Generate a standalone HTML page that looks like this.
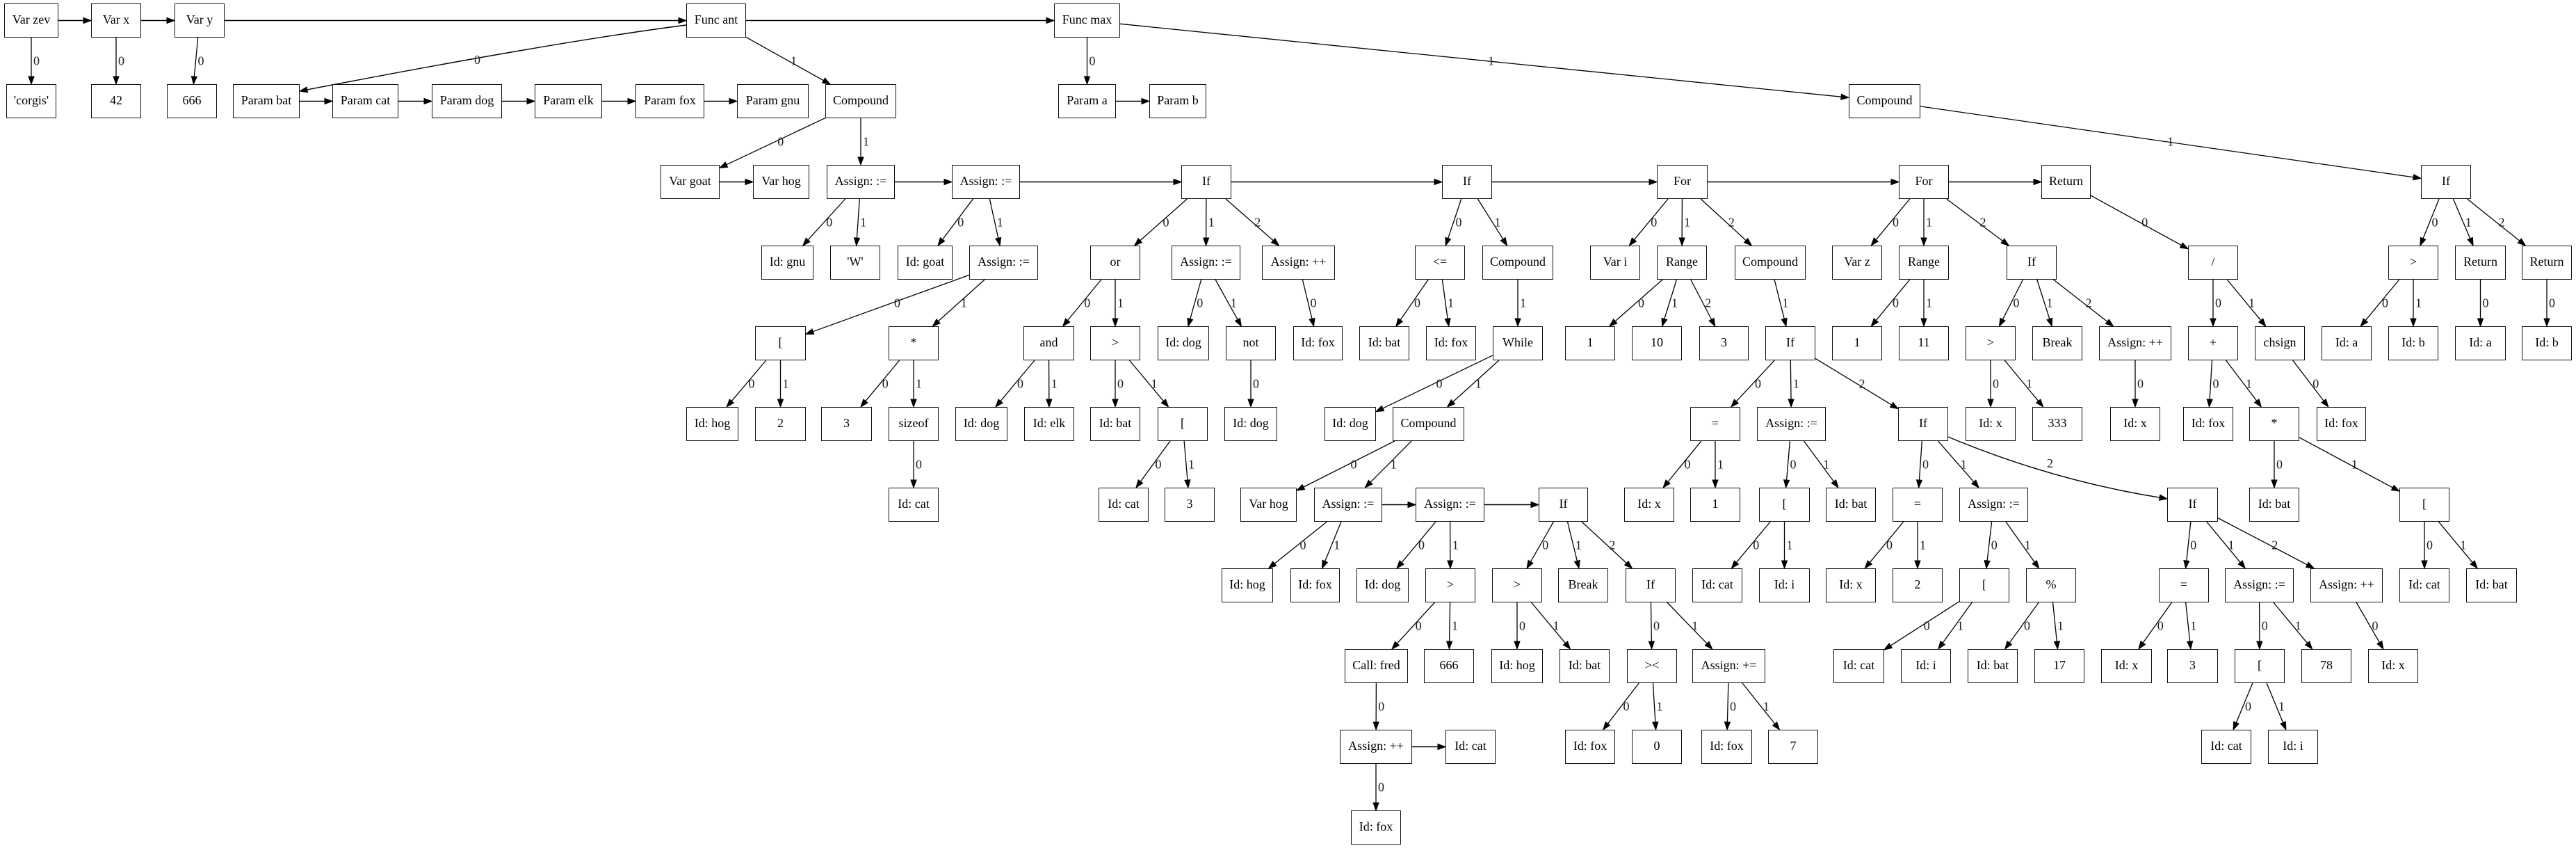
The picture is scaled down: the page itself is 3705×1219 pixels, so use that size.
<!DOCTYPE html>
<html><head><meta charset="utf-8"><style>
html,body{margin:0;padding:0;background:#fff;}
#w{position:relative;width:3705px;height:1219px;overflow:hidden;background:#fff;}
svg{position:absolute;left:0;top:0;}
.n{position:absolute;box-sizing:border-box;height:49px;border:1.6px solid #111;background:#fff;font-family:"Liberation Serif",serif;font-size:18px;line-height:45px;text-align:center;color:#000;white-space:nowrap;}
.l{font-family:"Liberation Serif",serif;font-size:18px;fill:#2a1a0a;}
</style></head><body><div id="w">
<svg id="s" width="3705" height="1219" viewBox="0 0 3705 1219">
<g id="E"></g>
<g id="L">
<text class="l" p="n1" c="n6">0</text><text class="l" p="n2" c="n7">0</text><text class="l" p="n3" c="n8">0</text>
<text class="l" p="n4" c="n9" cv="987,36,800,60,431,131" lx="682" ly="92">0</text>
<text class="l" p="n4" c="n15">1</text><text class="l" p="n5" c="n16">0</text><text class="l" p="n5" c="n18">1</text>
<text class="l" p="n15" c="n19">0</text><text class="l" p="n15" c="n21">1</text><text class="l" p="n21" c="n29">0</text><text class="l" p="n21" c="n30">1</text>
<text class="l" p="n22" c="n31">0</text><text class="l" p="n22" c="n32">1</text><text class="l" p="n32" c="n48">0</text><text class="l" p="n32" c="n49">1</text>
<text class="l" p="n48" c="n73">0</text><text class="l" p="n48" c="n74">1</text><text class="l" p="n49" c="n75">0</text><text class="l" p="n49" c="n76">1</text><text class="l" p="n76" c="n93">0</text>
<text class="l" p="n23" c="n33">0</text><text class="l" p="n23" c="n34">1</text><text class="l" p="n23" c="n35">2</text><text class="l" p="n33" c="n50">0</text><text class="l" p="n33" c="n51">1</text>
<text class="l" p="n50" c="n77">0</text><text class="l" p="n50" c="n78">1</text><text class="l" p="n51" c="n79">0</text><text class="l" p="n51" c="n80">1</text><text class="l" p="n80" c="n94">0</text><text class="l" p="n80" c="n95">1</text>
<text class="l" p="n34" c="n52">0</text><text class="l" p="n34" c="n53">1</text><text class="l" p="n53" c="n81">0</text><text class="l" p="n35" c="n54">0</text>
<text class="l" p="n24" c="n36">0</text><text class="l" p="n24" c="n37">1</text><text class="l" p="n36" c="n55">0</text><text class="l" p="n36" c="n56">1</text><text class="l" p="n37" c="n57">1</text>
<text class="l" p="n57" c="n82">0</text><text class="l" p="n57" c="n83">1</text><text class="l" p="n83" c="n96">0</text><text class="l" p="n83" c="n97">1</text>
<text class="l" p="n97" c="n109">0</text><text class="l" p="n97" c="n110">1</text><text class="l" p="n98" c="n111">0</text><text class="l" p="n98" c="n112">1</text>
<text class="l" p="n112" c="n127">0</text><text class="l" p="n112" c="n128">1</text><text class="l" p="n127" c="n142">0</text><text class="l" p="n142" c="n150">0</text>
<text class="l" p="n99" c="n113">0</text><text class="l" p="n99" c="n114">1</text><text class="l" p="n99" c="n115">2</text><text class="l" p="n113" c="n129">0</text><text class="l" p="n113" c="n130">1</text>
<text class="l" p="n115" c="n131">0</text><text class="l" p="n115" c="n132">1</text><text class="l" p="n131" c="n144">0</text><text class="l" p="n131" c="n145">1</text><text class="l" p="n132" c="n146">0</text><text class="l" p="n132" c="n147">1</text>
<text class="l" p="n25" c="n38">0</text><text class="l" p="n25" c="n39">1</text><text class="l" p="n25" c="n40">2</text><text class="l" p="n39" c="n58">0</text><text class="l" p="n39" c="n59">1</text><text class="l" p="n39" c="n60">2</text><text class="l" p="n40" c="n61">1</text>
<text class="l" p="n61" c="n84">0</text><text class="l" p="n61" c="n85">1</text><text class="l" p="n61" c="n86">2</text><text class="l" p="n84" c="n100">0</text><text class="l" p="n84" c="n101">1</text>
<text class="l" p="n85" c="n102">0</text><text class="l" p="n85" c="n103">1</text><text class="l" p="n102" c="n116">0</text><text class="l" p="n102" c="n117">1</text>
<text class="l" p="n86" c="n104">0</text><text class="l" p="n86" c="n105">1</text>
<text class="l" p="n86" c="n106" cv="2802,628,2950,690,3117,717" lx="2944" ly="672">2</text>
<text class="l" p="n104" c="n118">0</text><text class="l" p="n104" c="n119">1</text><text class="l" p="n105" c="n120">0</text><text class="l" p="n105" c="n121">1</text>
<text class="l" p="n120" c="n133">0</text><text class="l" p="n120" c="n134">1</text><text class="l" p="n121" c="n135">0</text><text class="l" p="n121" c="n136">1</text>
<text class="l" p="n106" c="n122">0</text><text class="l" p="n106" c="n123">1</text><text class="l" p="n106" c="n124">2</text><text class="l" p="n122" c="n137">0</text><text class="l" p="n122" c="n138">1</text>
<text class="l" p="n123" c="n139">0</text><text class="l" p="n123" c="n140">1</text><text class="l" p="n139" c="n148">0</text><text class="l" p="n139" c="n149">1</text><text class="l" p="n124" c="n141">0</text>
<text class="l" p="n26" c="n41">0</text><text class="l" p="n26" c="n42">1</text><text class="l" p="n26" c="n43">2</text><text class="l" p="n42" c="n62">0</text><text class="l" p="n42" c="n63">1</text>
<text class="l" p="n43" c="n64">0</text><text class="l" p="n43" c="n65">1</text><text class="l" p="n43" c="n66">2</text><text class="l" p="n64" c="n87">0</text><text class="l" p="n64" c="n88">1</text><text class="l" p="n66" c="n89">0</text>
<text class="l" p="n27" c="n44">0</text><text class="l" p="n44" c="n67">0</text><text class="l" p="n44" c="n68">1</text><text class="l" p="n67" c="n90">0</text><text class="l" p="n67" c="n91">1</text><text class="l" p="n68" c="n92">0</text>
<text class="l" p="n91" c="n107">0</text><text class="l" p="n91" c="n108">1</text><text class="l" p="n108" c="n125">0</text><text class="l" p="n108" c="n126">1</text>
<text class="l" p="n18" c="n28">1</text><text class="l" p="n28" c="n45">0</text><text class="l" p="n28" c="n46">1</text><text class="l" p="n28" c="n47">2</text>
<text class="l" p="n45" c="n69">0</text><text class="l" p="n45" c="n70">1</text><text class="l" p="n46" c="n71">0</text><text class="l" p="n47" c="n72">0</text>
</g>
</svg>
<!-- row 0 -->
<div class="n" id="n1" style="left:6px;top:5px;width:78px">Var zev</div>
<div class="n" id="n2" style="left:131px;top:5px;width:72px">Var x</div>
<div class="n" id="n3" style="left:251px;top:5px;width:72px">Var y</div>
<div class="n" id="n4" style="left:987px;top:5px;width:86px">Func ant</div>
<div class="n" id="n5" style="left:1516px;top:5px;width:95px">Func max</div>
<!-- row 1 -->
<div class="n" id="n6" style="left:9px;top:121px;width:72px">'corgis'</div>
<div class="n" id="n7" style="left:131px;top:121px;width:72px">42</div>
<div class="n" id="n8" style="left:240px;top:121px;width:72px">666</div>
<div class="n" id="n9" style="left:335px;top:121px;width:96px">Param bat</div>
<div class="n" id="n10" style="left:478px;top:121px;width:95px">Param cat</div>
<div class="n" id="n11" style="left:621px;top:121px;width:101px">Param dog</div>
<div class="n" id="n12" style="left:769px;top:121px;width:97px">Param elk</div>
<div class="n" id="n13" style="left:914px;top:121px;width:99px">Param fox</div>
<div class="n" id="n14" style="left:1060px;top:121px;width:103px">Param gnu</div>
<div class="n" id="n15" style="left:1187px;top:121px;width:102px">Compound</div>
<div class="n" id="n16" style="left:1522px;top:121px;width:83px">Param a</div>
<div class="n" id="n17" style="left:1653px;top:121px;width:82px">Param b</div>
<div class="n" id="n18" style="left:2659px;top:121px;width:103px">Compound</div>
<!-- row 2 -->
<div class="n" id="n19" style="left:950px;top:237px;width:85px">Var goat</div>
<div class="n" id="n20" style="left:1083px;top:237px;width:81px">Var hog</div>
<div class="n" id="n21" style="left:1189px;top:237px;width:98px">Assign: :=</div>
<div class="n" id="n22" style="left:1369px;top:237px;width:98px">Assign: :=</div>
<div class="n" id="n23" style="left:1699px;top:237px;width:72px">If</div>
<div class="n" id="n24" style="left:2074px;top:237px;width:72px">If</div>
<div class="n" id="n25" style="left:2383px;top:237px;width:73px">For</div>
<div class="n" id="n26" style="left:2731px;top:237px;width:72px">For</div>
<div class="n" id="n27" style="left:2936px;top:237px;width:71px">Return</div>
<div class="n" id="n28" style="left:3482px;top:237px;width:72px">If</div>
<!-- row 3 -->
<div class="n" id="n29" style="left:1095px;top:353px;width:75px">Id: gnu</div>
<div class="n" id="n30" style="left:1194px;top:353px;width:72px">'W'</div>
<div class="n" id="n31" style="left:1291px;top:353px;width:79px">Id: goat</div>
<div class="n" id="n32" style="left:1394px;top:353px;width:99px">Assign: :=</div>
<div class="n" id="n33" style="left:1568px;top:353px;width:72px">or</div>
<div class="n" id="n34" style="left:1685px;top:353px;width:99px">Assign: :=</div>
<div class="n" id="n35" style="left:1815px;top:353px;width:105px">Assign: ++</div>
<div class="n" id="n36" style="left:2035px;top:353px;width:72px">&lt;=</div>
<div class="n" id="n37" style="left:2132px;top:353px;width:102px">Compound</div>
<div class="n" id="n38" style="left:2287px;top:353px;width:72px">Var i</div>
<div class="n" id="n39" style="left:2383px;top:353px;width:72px">Range</div>
<div class="n" id="n40" style="left:2495px;top:353px;width:102px">Compound</div>
<div class="n" id="n41" style="left:2635px;top:353px;width:72px">Var z</div>
<div class="n" id="n42" style="left:2731px;top:353px;width:72px">Range</div>
<div class="n" id="n43" style="left:2886px;top:353px;width:72px">If</div>
<div class="n" id="n44" style="left:3147px;top:353px;width:72px">/</div>
<div class="n" id="n45" style="left:3435px;top:353px;width:72px">&gt;</div>
<div class="n" id="n46" style="left:3531px;top:353px;width:73px">Return</div>
<div class="n" id="n47" style="left:3627px;top:353px;width:72px">Return</div>
<!-- row 4 -->
<div class="n" id="n48" style="left:1086px;top:469px;width:73px">[</div>
<div class="n" id="n49" style="left:1278px;top:469px;width:72px">*</div>
<div class="n" id="n50" style="left:1472px;top:469px;width:73px">and</div>
<div class="n" id="n51" style="left:1568px;top:469px;width:72px">&gt;</div>
<div class="n" id="n52" style="left:1665px;top:469px;width:74px">Id: dog</div>
<div class="n" id="n53" style="left:1763px;top:469px;width:72px">not</div>
<div class="n" id="n54" style="left:1860px;top:469px;width:71px">Id: fox</div>
<div class="n" id="n55" style="left:1955px;top:469px;width:72px">Id: bat</div>
<div class="n" id="n56" style="left:2051px;top:469px;width:72px">Id: fox</div>
<div class="n" id="n57" style="left:2147px;top:469px;width:72px">While</div>
<div class="n" id="n58" style="left:2251px;top:469px;width:72px">1</div>
<div class="n" id="n59" style="left:2347px;top:469px;width:72px">10</div>
<div class="n" id="n60" style="left:2444px;top:469px;width:71px">3</div>
<div class="n" id="n61" style="left:2539px;top:469px;width:72px">If</div>
<div class="n" id="n62" style="left:2635px;top:469px;width:72px">1</div>
<div class="n" id="n63" style="left:2731px;top:469px;width:72px">11</div>
<div class="n" id="n64" style="left:2827px;top:469px;width:72px">&gt;</div>
<div class="n" id="n65" style="left:2923px;top:469px;width:72px">Break</div>
<div class="n" id="n66" style="left:3019px;top:469px;width:104px">Assign: ++</div>
<div class="n" id="n67" style="left:3147px;top:469px;width:72px">+</div>
<div class="n" id="n68" style="left:3243px;top:469px;width:72px">chsign</div>
<div class="n" id="n69" style="left:3339px;top:469px;width:72px">Id: a</div>
<div class="n" id="n70" style="left:3435px;top:469px;width:72px">Id: b</div>
<div class="n" id="n71" style="left:3531px;top:469px;width:73px">Id: a</div>
<div class="n" id="n72" style="left:3627px;top:469px;width:72px">Id: b</div>
<!-- row 5 -->
<div class="n" id="n73" style="left:987px;top:585px;width:75px">Id: hog</div>
<div class="n" id="n74" style="left:1086px;top:585px;width:73px">2</div>
<div class="n" id="n75" style="left:1181px;top:585px;width:73px">3</div>
<div class="n" id="n76" style="left:1278px;top:585px;width:72px">sizeof</div>
<div class="n" id="n77" style="left:1374px;top:585px;width:75px">Id: dog</div>
<div class="n" id="n78" style="left:1473px;top:585px;width:72px">Id: elk</div>
<div class="n" id="n79" style="left:1568px;top:585px;width:72px">Id: bat</div>
<div class="n" id="n80" style="left:1665px;top:585px;width:72px">[</div>
<div class="n" id="n81" style="left:1761px;top:585px;width:76px">Id: dog</div>
<div class="n" id="n82" style="left:1905px;top:585px;width:74px">Id: dog</div>
<div class="n" id="n83" style="left:2003px;top:585px;width:103px">Compound</div>
<div class="n" id="n84" style="left:2431px;top:585px;width:72px">=</div>
<div class="n" id="n85" style="left:2527px;top:585px;width:99px">Assign: :=</div>
<div class="n" id="n86" style="left:2730px;top:585px;width:72px">If</div>
<div class="n" id="n87" style="left:2827px;top:585px;width:72px">Id: x</div>
<div class="n" id="n88" style="left:2923px;top:585px;width:72px">333</div>
<div class="n" id="n89" style="left:3035px;top:585px;width:72px">Id: x</div>
<div class="n" id="n90" style="left:3140px;top:585px;width:72px">Id: fox</div>
<div class="n" id="n91" style="left:3235px;top:585px;width:72px">*</div>
<div class="n" id="n92" style="left:3332px;top:585px;width:71px">Id: fox</div>
<!-- row 6 -->
<div class="n" id="n93" style="left:1278px;top:701px;width:72px">Id: cat</div>
<div class="n" id="n94" style="left:1580px;top:701px;width:72px">Id: cat</div>
<div class="n" id="n95" style="left:1675px;top:701px;width:72px">3</div>
<div class="n" id="n96" style="left:1784px;top:701px;width:81px">Var hog</div>
<div class="n" id="n97" style="left:1890px;top:701px;width:98px">Assign: :=</div>
<div class="n" id="n98" style="left:2036px;top:701px;width:99px">Assign: :=</div>
<div class="n" id="n99" style="left:2213px;top:701px;width:71px">If</div>
<div class="n" id="n100" style="left:2336px;top:701px;width:72px">Id: x</div>
<div class="n" id="n101" style="left:2431px;top:701px;width:72px">1</div>
<div class="n" id="n102" style="left:2530px;top:701px;width:73px">[</div>
<div class="n" id="n103" style="left:2626px;top:701px;width:72px">Id: bat</div>
<div class="n" id="n104" style="left:2722px;top:701px;width:72px">=</div>
<div class="n" id="n105" style="left:2818px;top:701px;width:99px">Assign: :=</div>
<div class="n" id="n106" style="left:3117px;top:701px;width:73px">If</div>
<div class="n" id="n107" style="left:3235px;top:701px;width:72px">Id: bat</div>
<div class="n" id="n108" style="left:3451px;top:701px;width:72px">[</div>
<!-- row 7 -->
<div class="n" id="n109" style="left:1757px;top:817px;width:74px">Id: hog</div>
<div class="n" id="n110" style="left:1856px;top:817px;width:71px">Id: fox</div>
<div class="n" id="n111" style="left:1951px;top:817px;width:75px">Id: dog</div>
<div class="n" id="n112" style="left:2050px;top:817px;width:72px">&gt;</div>
<div class="n" id="n113" style="left:2146px;top:817px;width:72px">&gt;</div>
<div class="n" id="n114" style="left:2241px;top:817px;width:72px">Break</div>
<div class="n" id="n115" style="left:2338px;top:817px;width:72px">If</div>
<div class="n" id="n116" style="left:2434px;top:817px;width:72px">Id: cat</div>
<div class="n" id="n117" style="left:2530px;top:817px;width:73px">Id: i</div>
<div class="n" id="n118" style="left:2626px;top:817px;width:72px">Id: x</div>
<div class="n" id="n119" style="left:2722px;top:817px;width:72px">2</div>
<div class="n" id="n120" style="left:2818px;top:817px;width:72px">[</div>
<div class="n" id="n121" style="left:2914px;top:817px;width:72px">%</div>
<div class="n" id="n122" style="left:3105px;top:817px;width:72px">=</div>
<div class="n" id="n123" style="left:3200px;top:817px;width:99px">Assign: :=</div>
<div class="n" id="n124" style="left:3323px;top:817px;width:104px">Assign: ++</div>
<div class="n" id="n125" style="left:3451px;top:817px;width:72px">Id: cat</div>
<div class="n" id="n126" style="left:3547px;top:817px;width:73px">Id: bat</div>
<!-- row 8 -->
<div class="n" id="n127" style="left:1934px;top:933px;width:91px">Call: fred</div>
<div class="n" id="n128" style="left:2048px;top:933px;width:72px">666</div>
<div class="n" id="n129" style="left:2145px;top:933px;width:74px">Id: hog</div>
<div class="n" id="n130" style="left:2243px;top:933px;width:72px">Id: bat</div>
<div class="n" id="n131" style="left:2340px;top:933px;width:72px">&gt;&lt;</div>
<div class="n" id="n132" style="left:2434px;top:933px;width:105px">Assign: +=</div>
<div class="n" id="n133" style="left:2637px;top:933px;width:73px">Id: cat</div>
<div class="n" id="n134" style="left:2734px;top:933px;width:72px">Id: i</div>
<div class="n" id="n135" style="left:2830px;top:933px;width:72px">Id: bat</div>
<div class="n" id="n136" style="left:2926px;top:933px;width:72px">17</div>
<div class="n" id="n137" style="left:3022px;top:933px;width:73px">Id: x</div>
<div class="n" id="n138" style="left:3117px;top:933px;width:73px">3</div>
<div class="n" id="n139" style="left:3214px;top:933px;width:72px">[</div>
<div class="n" id="n140" style="left:3310px;top:933px;width:72px">78</div>
<div class="n" id="n141" style="left:3406px;top:933px;width:72px">Id: x</div>
<!-- row 9 -->
<div class="n" id="n142" style="left:1927px;top:1049px;width:104px">Assign: ++</div>
<div class="n" id="n143" style="left:2079px;top:1049px;width:72px">Id: cat</div>
<div class="n" id="n144" style="left:2251px;top:1049px;width:72px">Id: fox</div>
<div class="n" id="n145" style="left:2347px;top:1049px;width:72px">0</div>
<div class="n" id="n146" style="left:2447px;top:1049px;width:73px">Id: fox</div>
<div class="n" id="n147" style="left:2543px;top:1049px;width:72px">7</div>
<div class="n" id="n148" style="left:3166px;top:1049px;width:72px">Id: cat</div>
<div class="n" id="n149" style="left:3262px;top:1049px;width:72px">Id: i</div>
<!-- row 10 -->
<div class="n" id="n150" style="left:1943px;top:1165px;width:72px">Id: fox</div>
</div>
<script>
(function(){
var NS="http://www.w3.org/2000/svg",E=document.getElementById("E");
function B(id){var e=document.getElementById(id);return{x:e.offsetLeft,y:e.offsetTop,w:e.offsetWidth,h:e.offsetHeight,cx:e.offsetLeft+e.offsetWidth/2,cy:e.offsetTop+e.offsetHeight/2};}
function el(t,a){var e=document.createElementNS(NS,t);for(var k in a)e.setAttribute(k,a[k]);E.appendChild(e);return e;}
function arrow(x1,y1,x2,y2){var dx=x2-x1,dy=y2-y1,L=Math.sqrt(dx*dx+dy*dy),ux=dx/L,uy=dy/L,al=11,aw=4;
 var bx=x2-ux*al,by=y2-uy*al;
 el("polygon",{points:x2+","+y2+" "+(bx-uy*aw)+","+(by+ux*aw)+" "+(bx+uy*aw)+","+(by-ux*aw),fill:"#000",stroke:"#000","stroke-width":"1"});
 return [bx,by];}
function clip(b,dx,dy){var hw=b.w/2,hh=b.h/2,t=Math.min(dx?hw/Math.abs(dx):1e9,dy?hh/Math.abs(dy):1e9);return [b.cx+dx*t,b.cy+dy*t];}
var seq=[["n1","n2"],["n2","n3"],["n3","n4"],["n4","n5"],["n9","n10"],["n10","n11"],["n11","n12"],["n12","n13"],["n13","n14"],["n16","n17"],["n19","n20"],["n21","n22"],["n22","n23"],["n23","n24"],["n24","n25"],["n25","n26"],["n26","n27"],["n97","n98"],["n98","n99"],["n142","n143"]];
seq.forEach(function(s){var a=B(s[0]),b=B(s[1]),y=a.cy;var x1=a.x+a.w,x2=b.x;var e=arrow(x1,y,x2,y);
 el("line",{x1:x1,y1:y,x2:e[0],y2:y,stroke:"#000","stroke-width":"1.4"});});
var ls=document.querySelectorAll("#L text");
for(var i=0;i<ls.length;i++){var t=ls[i],a=B(t.getAttribute("p")),b=B(t.getAttribute("c"));
 var cv=t.getAttribute("cv");
 if(cv){var c=cv.split(",").map(Number);
  var e=arrow(c[2],c[3],c[4],c[5]);
  el("path",{d:"M"+c[0]+","+c[1]+" Q"+c[2]+","+c[3]+" "+e[0]+","+e[1],fill:"none",stroke:"#000","stroke-width":"1.4"});
  t.setAttribute("x",t.getAttribute("lx"));t.setAttribute("y",t.getAttribute("ly"));continue;}
 var dx=b.cx-a.cx,dy=b.cy-a.cy;
 var p=clip(a,dx,dy),q=clip(b,-dx,-dy);
 var e=arrow(p[0],p[1],q[0],q[1]);
 el("line",{x1:p[0],y1:p[1],x2:e[0],y2:e[1],stroke:"#000","stroke-width":"1.3"});
 var ym=(a.y+a.h+b.y)/2;var xm=p[0]+(ym-p[1])*(q[0]-p[0])/(q[1]-p[1]);
 if(Math.abs(dy)<150){t.setAttribute("x",xm+3);t.setAttribute("y",ym+6);}
 else{var mx=(p[0]+q[0])/2,my=(p[1]+q[1])/2;t.setAttribute("x",mx);t.setAttribute("y",my-6);}
}
})();
</script>
</body></html>
